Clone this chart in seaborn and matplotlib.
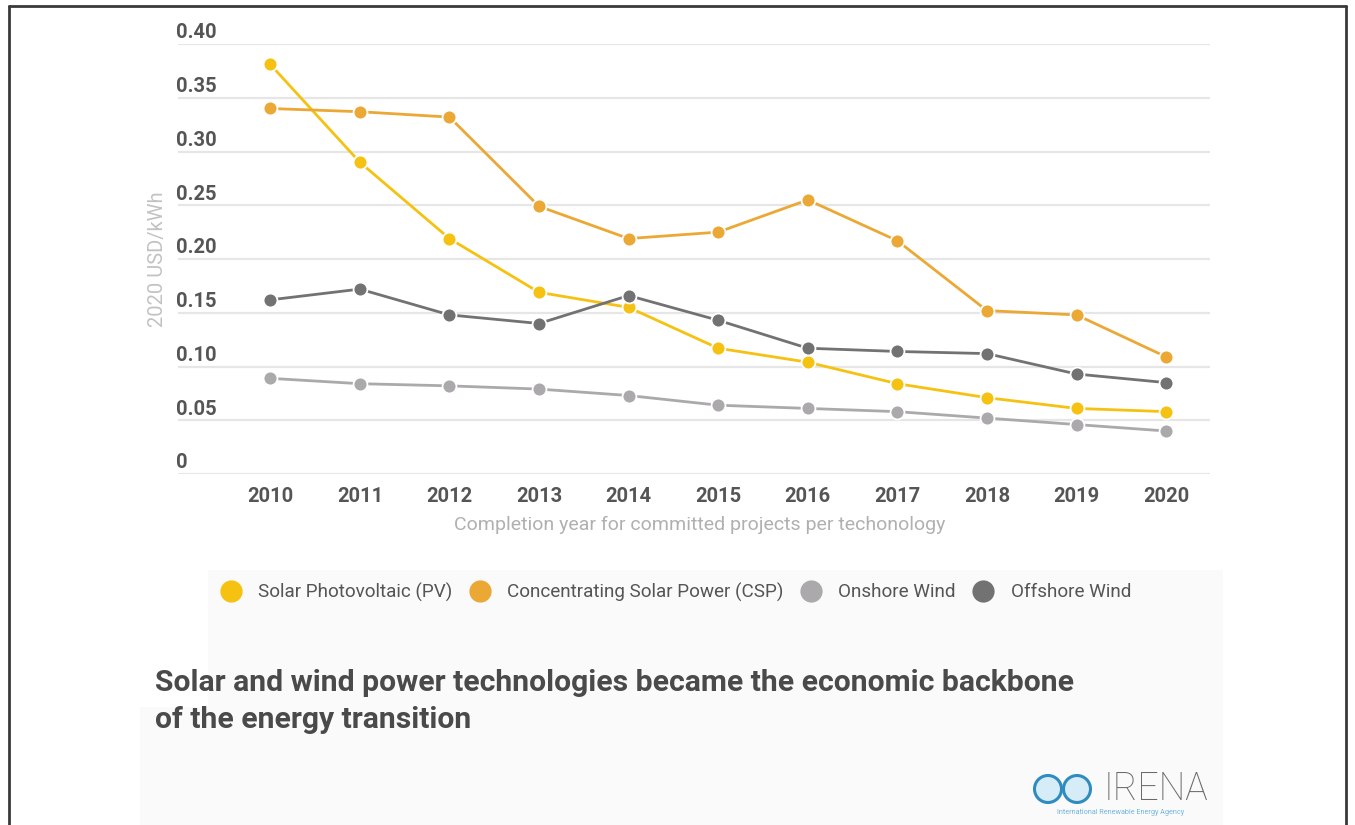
import matplotlib
matplotlib.use("Agg")
import matplotlib.pyplot as plt
import matplotlib.transforms as mtransforms
from matplotlib.lines import Line2D
from matplotlib.patches import Rectangle, Ellipse
import numpy as np
import pandas as pd
import seaborn as sns

# Levelised cost of electricity, 2020 USD/kWh, by completion year
years = [2010, 2011, 2012, 2013, 2014, 2015, 2016, 2017, 2018, 2019, 2020]
solar_pv = [0.381, 0.290, 0.219, 0.169, 0.155, 0.117, 0.104, 0.084, 0.071, 0.061, 0.058]
csp = [0.340, 0.337, 0.332, 0.249, 0.219, 0.225, 0.255, 0.217, 0.152, 0.148, 0.109]
onshore_wind = [0.089, 0.084, 0.082, 0.079, 0.073, 0.064, 0.061, 0.058, 0.052, 0.046, 0.040]
offshore_wind = [0.162, 0.172, 0.148, 0.140, 0.166, 0.143, 0.117, 0.114, 0.112, 0.093, 0.085]

technologies = ["Solar Photovoltaic (PV)", "Concentrating Solar Power (CSP)",
                "Onshore Wind", "Offshore Wind"]
series = [solar_pv, csp, onshore_wind, offshore_wind]
colors = ["#F5C211", "#EBA834", "#ABA9AB", "#737273"]
y_ticks = [0, 0.05, 0.10, 0.15, 0.20, 0.25, 0.30, 0.35, 0.40]
y_tick_labels = ["0", "0.05", "0.10", "0.15", "0.20", "0.25", "0.30", "0.35", "0.40"]

df = pd.DataFrame({
    "year": np.tile(years, len(technologies)),
    "cost": np.concatenate(series),
    "tech": np.repeat(technologies, len(years)),
})

sns.set_theme(style="white")
plt.rcParams["font.family"] = ["Roboto", "DejaVu Sans"]

W, H = 1355, 825
fig = plt.figure(figsize=(W / 100, H / 100), dpi=100)
fig.patch.set_facecolor("white")

def fx(px):
    return px / W

def fy(py):
    return 1 - py / H

# light panel behind legend and caption
for (x0, y0) in [(208, 570), (140, 707)]:
    fig.patches.append(Rectangle((fx(x0), 0), fx(1223) - fx(x0), fy(y0),
                                 transform=fig.transFigure, facecolor="#fafafa",
                                 edgecolor="none", zorder=0))

# frame
for xs, ys in [([9, 9], [6, H]), ([9, 1346], [6, 6]), ([1346, 1346], [6, H])]:
    fig.lines.append(Line2D([fx(v) for v in xs], [fy(v) for v in ys],
                            transform=fig.transFigure, color="#3a3a3a", lw=2))

ax = fig.add_axes([fx(178), fy(474), fx(1210) - fx(178), (474 - 44) / H])
ax.set_facecolor("none")

sns.lineplot(data=df, x="year", y="cost", hue="tech", hue_order=technologies,
             palette=colors, marker="o", markersize=10, markeredgecolor="white",
             markeredgewidth=1.3, linewidth=2.0, legend=False, ax=ax, zorder=3)

ax.set_xlim(2008.97, 2020.49)
ax.set_ylim(0, 0.40)
ax.set_xticks(years)
ax.set_xticklabels([str(y) for y in years], fontsize=14.5, fontweight="bold",
                   color="#555555")
ax.set_yticks(y_ticks)
ax.set_yticklabels(y_tick_labels, fontsize=14.5, fontweight="bold", color="#555555")
ax.tick_params(axis="x", length=0, pad=9)
ax.tick_params(axis="y", length=0, pad=1.5)
for lab in ax.get_yticklabels():
    lab.set_horizontalalignment("left")
    lab.set_verticalalignment("bottom")
    lab.set_transform(lab.get_transform() +
                      mtransforms.ScaledTranslation(0, 1.2 / 72, fig.dpi_scale_trans))

ax.grid(axis="y", color="#e6e6e6", linewidth=1.6, zorder=0)
ax.grid(axis="x", visible=False)
for s in ax.spines.values():
    s.set_visible(False)

ax.set_xlabel("Completion year for committed projects per techonology",
              fontsize=14, color="#b0b0b0")
ax.xaxis.set_label_coords((700 - 178) / 1032, (474 - 525) / 430)
ax.xaxis.label.set_verticalalignment("center")
ax.set_ylabel("2020 USD/kWh", fontsize=14.5, color="#c2c2c2")
ax.yaxis.set_label_coords(-0.0105, 0.5)

# legend
handles = [Line2D([], [], linestyle="none", marker="o", markersize=16,
                  markerfacecolor=c, markeredgecolor="none") for c in colors]
leg = fig.legend(handles, technologies, loc="center left",
                 bbox_to_anchor=(fx(212), fy(592)), ncol=4, frameon=False,
                 handlelength=1.0, handletextpad=0.95, columnspacing=0.95,
                 borderpad=0, fontsize=13.6)
for t in leg.get_texts():
    t.set_color("#555555")

# caption
fig.text(fx(155), fy(683), "Solar and wind power technologies became the economic backbone",
         fontsize=21.7, fontweight="bold", color="#4a4a4a", va="center", ha="left")
fig.text(fx(155), fy(720), "of the energy transition",
         fontsize=21.7, fontweight="bold", color="#4a4a4a", va="center", ha="left")

# agency mark
for cx in [1048, 1077]:
    fig.patches.append(Ellipse((fx(cx), fy(789)), 27 / W, 27 / H, transform=fig.transFigure,
                               facecolor="#d6ecf6", edgecolor="#2f8cc0", lw=2.2, zorder=5))
fig.text(fx(1104), fy(789), "IRENA", fontsize=27, fontweight="light", color="#6a6a6a",
         va="center", ha="left")
fig.text(fx(1121), fy(813), "International Renewable Energy Agency", fontsize=5.2,
         color="#6fb6dc", va="center", ha="center")

fig.savefig("out.png", dpi=100, facecolor=fig.get_facecolor())
